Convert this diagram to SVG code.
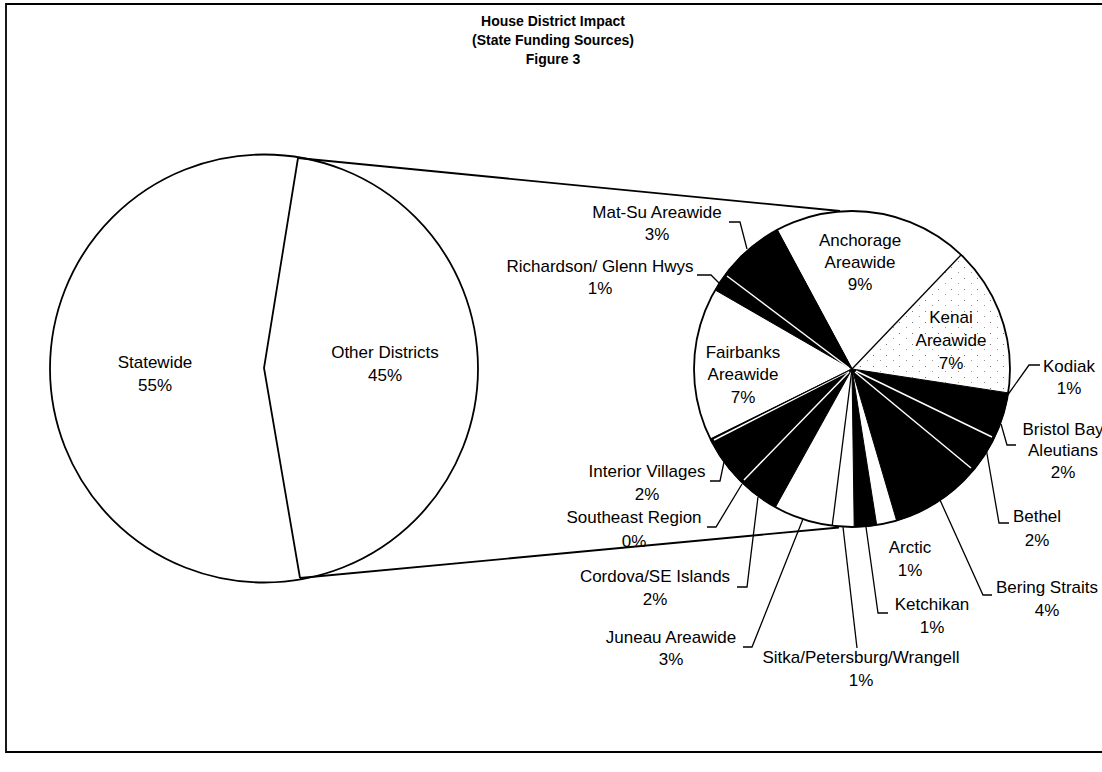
<svg xmlns="http://www.w3.org/2000/svg" width="1102" height="772" viewBox="0 0 1102 772">
<defs>
<pattern id="dots" width="13" height="11" patternUnits="userSpaceOnUse">
<rect x="2" y="3" width="1" height="1" fill="#777"/>
<rect x="9" y="8" width="1" height="1" fill="#999"/>
</pattern>
</defs>
<style>
.t{font-family:"Liberation Sans",Arial,sans-serif;font-size:17px;fill:#000;text-anchor:middle}
.ttl{font-family:"Liberation Sans",Arial,sans-serif;font-size:14px;font-weight:bold;fill:#000;text-anchor:middle}
.ln{fill:none;stroke:#000;stroke-width:1.8}
.ld{fill:none;stroke:#000;stroke-width:1.3}
.wl{fill:none;stroke:#fff;stroke-width:1.5}
.blk{fill:#000;stroke:#000;stroke-width:1}
</style>
<rect width="1102" height="772" fill="#fff"/>
<g id="frame">
<polyline class="ln" points="1102,4 6,4 6,752 1102,752"/>
</g>
<g id="title">
<text class="ttl" x="553" y="26">House District Impact</text>
<text class="ttl" x="553" y="45">(State Funding Sources)</text>
<text class="ttl" x="553" y="64">Figure 3</text>
</g>
<g id="left-pie">
<circle class="ln" cx="264" cy="368.5" r="214" fill="#fff"/>
<polyline class="ln" points="298,158 264,368 300,578"/>
</g>
<g id="statewide">
<text class="t" x="155" y="368">Statewide</text>
<text class="t" x="155" y="391">55%</text>
</g>
<g id="other-districts">
<text class="t" x="385" y="358">Other Districts</text>
<text class="t" x="385" y="381">45%</text>
</g>
<g id="right-pie">
<circle cx="852" cy="369" r="158" fill="#fff"/>
<path d="M852,369 L961.2,254.8 A158,158 0 0 1 1008.2,392.9 Z" fill="url(#dots)"/>
<path class="blk" d="M852,369 L1008.2,392.9 A158,158 0 0 1 896.6,520.6 Z"/>
<path class="blk" d="M852,369 L876.7,525.1 A158,158 0 0 1 854.2,527 Z"/>
<path class="blk" d="M852,369 L775.4,507.2 A158,158 0 0 1 710.5,439.2 Z"/>
<path class="blk" d="M852,369 L715.2,290 A158,158 0 0 1 777.1,229.9 Z"/>
<line class="wl" x1="856" y1="371" x2="992" y2="437"/>
<line class="wl" x1="855" y1="372" x2="971" y2="468"/>
<line class="wl" x1="849" y1="372" x2="744" y2="480"/>
<line class="wl" x1="849" y1="371" x2="714" y2="440"/>
<line class="wl" x1="849" y1="368" x2="727" y2="276"/>
<line class="ld" x1="852" y1="369" x2="961.2" y2="254.8"/>
<line class="ld" x1="852" y1="369" x2="832.2" y2="525.8"/>
<line class="ld" x1="852" y1="369" x2="777.1" y2="229.9"/>
<line class="ld" x1="852" y1="369" x2="710.5" y2="439.2"/>
<circle class="ln" cx="852" cy="369" r="158"/>
</g>
<g id="connectors">
<line class="ln" x1="298" y1="158" x2="840" y2="211"/>
<line class="ln" x1="300" y1="578" x2="839" y2="527.5"/>
<polyline class="ld" points="729,222 740,222 747,249"/>
<polyline class="ld" points="697,275 711,275 719,283"/>
<polyline class="ld" points="710,481 720,481 724,462"/>
<polyline class="ld" points="707,527 716,527 742,484"/>
<polyline class="ld" points="737,587 747,587 758,497"/>
<polyline class="ld" points="743,647 752,647 803,519"/>
<polyline class="ld" points="843,527 857,648"/>
<polyline class="ld" points="866,527 878,613 888,613"/>
<polyline class="ld" points="940,500 983,595 992,595"/>
<polyline class="ld" points="986,448 999,523 1009,523"/>
<polyline class="ld" points="1001,424 1007,445 1016,445"/>
<polyline class="ld" points="1007,396 1029,365 1040,365"/>
</g>
<g id="anchorage"><text class="t" x="860" y="246">Anchorage</text><text class="t" x="860" y="268">Areawide</text><text class="t" x="860" y="290">9%</text></g>
<g id="kenai"><text class="t" x="951" y="323">Kenai</text><text class="t" x="951" y="346">Areawide</text><text class="t" x="951" y="369">7%</text></g>
<g id="fairbanks"><text class="t" x="743" y="358">Fairbanks</text><text class="t" x="743" y="380">Areawide</text><text class="t" x="743" y="403">7%</text></g>
<g id="matsu"><text class="t" x="657" y="218">Mat-Su Areawide</text><text class="t" x="657" y="240">3%</text></g>
<g id="richardson"><text class="t" x="600" y="272">Richardson/ Glenn Hwys</text><text class="t" x="600" y="294">1%</text></g>
<g id="interior"><text class="t" x="647" y="477">Interior Villages</text><text class="t" x="647" y="500">2%</text></g>
<g id="southeast"><text class="t" x="634" y="523">Southeast Region</text><text class="t" x="634" y="547">0%</text></g>
<g id="cordova"><text class="t" x="655" y="582">Cordova/SE Islands</text><text class="t" x="655" y="605">2%</text></g>
<g id="juneau"><text class="t" x="671" y="643">Juneau Areawide</text><text class="t" x="671" y="665">3%</text></g>
<g id="sitka"><text class="t" x="861" y="663">Sitka/Petersburg/Wrangell</text><text class="t" x="861" y="686">1%</text></g>
<g id="ketchikan"><text class="t" x="932" y="610">Ketchikan</text><text class="t" x="932" y="633">1%</text></g>
<g id="arctic"><text class="t" x="910" y="553">Arctic</text><text class="t" x="910" y="576">1%</text></g>
<g id="bering"><text class="t" x="1047" y="593">Bering Straits</text><text class="t" x="1047" y="616">4%</text></g>
<g id="bethel"><text class="t" x="1037" y="522">Bethel</text><text class="t" x="1037" y="546">2%</text></g>
<g id="bristol"><text class="t" x="1063" y="435">Bristol Bay</text><text class="t" x="1063" y="456">Aleutians</text><text class="t" x="1063" y="478">2%</text></g>
<g id="kodiak"><text class="t" x="1069" y="372">Kodiak</text><text class="t" x="1069" y="394">1%</text></g>
</svg>
